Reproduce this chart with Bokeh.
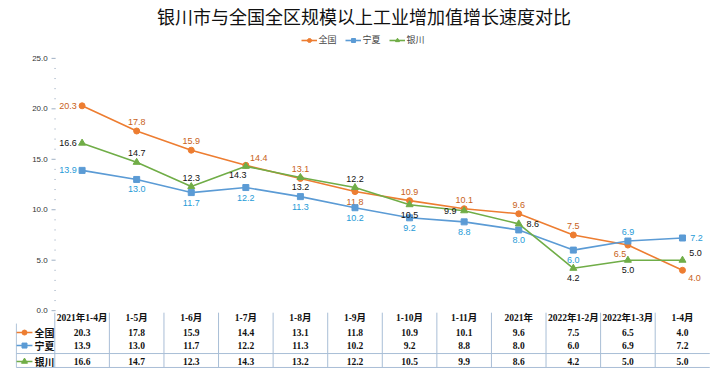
from bokeh.plotting import figure
from bokeh.models import ColumnDataSource, Legend, LegendItem, Range1d
from bokeh.core.properties import value
from bokeh.embed import file_html
from bokeh.resources import INLINE

# ---------------- data ----------------
categories = ["2021年1-4月", "1-5月", "1-6月", "1-7月", "1-8月", "1-9月",
              "1-10月", "1-11月", "2021年", "2022年1-2月", "2022年1-3月", "1-4月"]
quanguo = [20.3, 17.8, 15.9, 14.4, 13.1, 11.8, 10.9, 10.1, 9.6, 7.5, 6.5, 4.0]
ningxia = [13.9, 13.0, 11.7, 12.2, 11.3, 10.2, 9.2, 8.8, 8.0, 6.0, 6.9, 7.2]
yinchuan = [16.6, 14.7, 12.3, 14.3, 13.2, 12.2, 10.5, 9.9, 8.6, 4.2, 5.0, 5.0]
series_names = ["全国", "宁夏", "银川"]
y_major = [0, 5, 10, 15, 20, 25]
y_minor = [1, 2, 3, 4, 6, 7, 8, 9, 11, 12, 13, 14, 16, 17, 18, 19, 21, 22, 23, 24]
title_text = "银川市与全国全区规模以上工业增加值增长速度对比"

# ---------------- style ----------------
line_colors = ["#ED7D31", "#5B9BD5", "#70AD47"]
label_colors = ["#C8621A", "#1F9BD7", "#111111"]
markers = ["circle", "square", "triangle"]
marker_sizes = [6, 6, 7]
placements = [
    ["l", "a", "a", "ar", "a", "b", "a", "a", "a", "a", "bl", "br"],
    ["l", "b", "b", "b", "b", "b", "b", "b", "b", "b", "a", "r"],
    ["l", "a", "a", "bl", "b", "a", "b", "l", "r", "b", "b", "ar"],
]
offsets = {"a": (0, -9), "b": (0, 10), "l": (-14, 0), "r": (14, 0),
           "ar": (13, -7), "bl": (-8, 9), "br": (12, 8)}
table_font = value("Liberation Serif, Noto Sans CJK SC")
label_font = value("Liberation Sans")
grid_color = "#A9BED6"

W, H = 720, 378
p = figure(width=W, height=H, output_backend="svg", toolbar_location=None,
           x_range=Range1d(-0.72, 12.05), y_range=Range1d(-5.93, 27.96),
           x_axis_location=None, y_axis_location=None,
           min_border_left=15, min_border_right=8, min_border_bottom=8,
           min_border_top=27)
p.grid.visible = False
p.outline_line_color = None
p.title.text = title_text
p.title.align = "center"
p.title.text_font = "Noto Sans CJK SC"
p.title.text_font_size = "18px"
p.title.text_font_style = "normal"
p.title.text_color = "#111111"
p.title.standoff = 0
p.title.offset = 0

xs = [i + 0.5 for i in range(len(categories))]
all_series = [quanguo, ningxia, yinchuan]

# y axis (ticks & labels)
p.segment(x0=[-0.06] * len(y_major), y0=y_major, x1=[0.015] * len(y_major), y1=y_major,
          line_color="#9FB0C4", line_width=1)
p.segment(x0=[-0.01] * len(y_minor), y0=y_minor, x1=[0.02] * len(y_minor), y1=y_minor,
          line_color="#B8C4D2", line_width=1)
p.text(x=[-0.13] * len(y_major), y=y_major, text=[f"{v:.1f}" for v in y_major],
       text_align="right", text_baseline="middle", text_font=label_font,
       text_font_size="8px", text_color="#333333")

legend_items = []
for k, (name, vals) in enumerate(zip(series_names, all_series)):
    ln = p.line(xs, vals, line_color=line_colors[k], line_width=1.6)
    sc = p.scatter(xs, vals, marker=markers[k], size=marker_sizes[k],
                   fill_color=line_colors[k], line_color=line_colors[k])
    legend_items.append(LegendItem(label=name, renderers=[ln, sc]))
    dx = [offsets[pl][0] for pl in placements[k]]
    dy = [offsets[pl][1] for pl in placements[k]]
    src = ColumnDataSource(dict(x=xs, y=vals, t=[f"{v:.1f}" for v in vals], dx=dx, dy=dy))
    p.text(x="x", y="y", text="t", x_offset="dx", y_offset="dy", source=src,
           text_align="center", text_baseline="middle", text_font=label_font,
           text_font_size="9px", text_color=label_colors[k])

legend = Legend(items=legend_items, location="top_center", orientation="horizontal",
                border_line_color=None, background_fill_alpha=0, margin=5, padding=2,
                label_text_font="Noto Sans CJK SC", label_text_font_size="9px",
                glyph_width=16, glyph_height=10, spacing=6, label_standoff=2)
p.add_layout(legend)

# ---------------- data table ----------------
header_y = -0.69
row_ys = [-2.17, -3.46, -5.04]
ncol = len(categories)
p.segment(x0=list(range(ncol)), y0=[-0.2] * ncol, x1=list(range(ncol)), y1=[-5.63] * ncol,
          line_color=grid_color, line_width=1)
p.segment(x0=[-0.705], y0=[-1.28], x1=[-0.705], y1=[-5.63], line_color=grid_color, line_width=1)
p.segment(x0=[-0.705, -0.705], y0=[-4.25, -5.63], x1=[12.0, 12.0], y1=[-4.25, -5.63],
          line_color=grid_color, line_width=1)
p.text(x=xs, y=[header_y] * ncol, text=categories, text_align="center",
       text_baseline="middle", text_font=table_font, text_font_size="9.5px",
       text_font_style="bold", text_color="#111111")
for k, (name, vals) in enumerate(zip(series_names, all_series)):
    ry = row_ys[k]
    p.segment(x0=[-0.70], y0=[ry], x1=[-0.41], y1=[ry], line_color=line_colors[k], line_width=1.6)
    p.scatter(x=[-0.555], y=[ry], marker=markers[k], size=marker_sizes[k] - 1,
              fill_color=line_colors[k], line_color=line_colors[k])
    p.text(x=[-0.37], y=[ry], text=[name], text_align="left", text_baseline="middle",
           text_font=value("Noto Sans CJK SC"), text_font_size="10px",
           text_font_style="bold", text_color="#111111")
    p.text(x=xs, y=[ry] * ncol, text=[f"{v:.1f}" for v in vals], text_align="center",
           text_baseline="middle", text_font=table_font, text_font_size="9.5px",
           text_font_style="bold", text_color="#111111")

open("out.html", "w").write(file_html(p, INLINE))
